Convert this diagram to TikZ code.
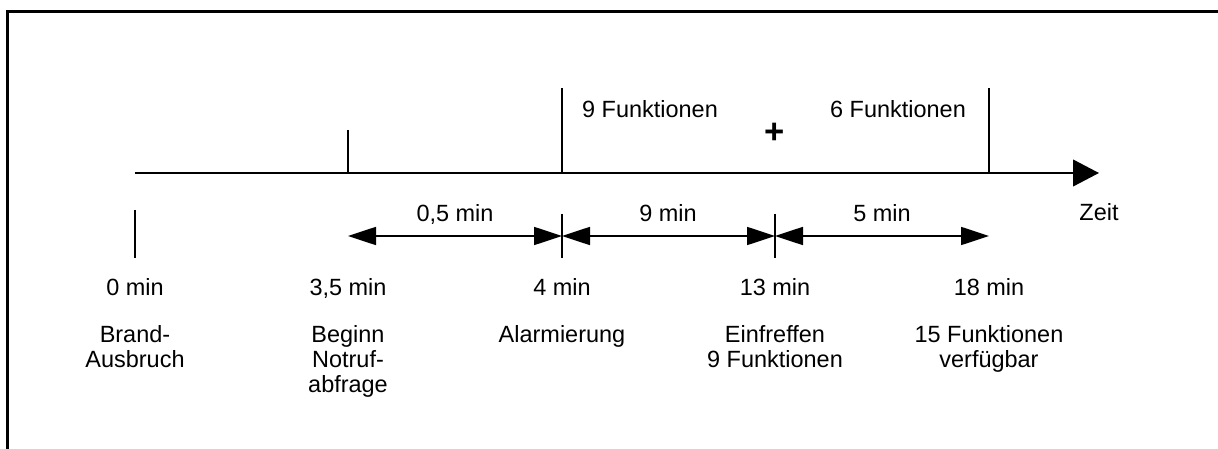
\documentclass[tikz,border=0pt]{standalone}
\usepackage{fontspec}
\setmainfont{Liberation Sans}
\usetikzlibrary{arrows.meta}

\tikzset{every picture/.style={line width=1.5pt}}
\tikzset{
  lbl/.style={font=\fontsize{17.6}{18.75}\selectfont, inner sep=0pt, anchor=base, align=center},
  dimarrow/.style={line width=1.3pt, {Triangle[length=21pt,width=13.5pt]}-{Triangle[length=21pt,width=13.5pt]}},
  axisarrow/.style={line width=1.5pt, -{Triangle[length=19.5pt,width=20pt]}},
}

\begin{document}
\begin{tikzpicture}[x=0.75pt,y=0.75pt,yscale=-1,xscale=1]
\useasboundingbox (0,0) rectangle (1218,449);

%Frame (left and top only)
\draw [line width=2.4pt] (7.2,449) -- (7.2,11.3) -- (1218,11.3) ;

%Points on the time axis
\coordinate (brand) at (135,173);
\coordinate (notruf) at (348,173);
\coordinate (alarm) at (562,173);
\coordinate (einfr) at (775,173);
\coordinate (verf) at (989,173);
\coordinate (zeit) at (1099,173);

%Time axis
\draw [axisarrow] (brand) -- (zeit) ;

%Ticks above the axis
\draw (notruf) -- ++(0,-43) ;
\draw (alarm) -- ++(0,-85) ;
\draw (verf) -- ++(0,-85) ;

%Ticks below the axis
\draw (brand) ++(0,37) -- ++(0,48) ;
\draw (alarm) ++(0,41) -- ++(0,44) ;
\draw (einfr) ++(0,41) -- ++(0,44) ;

%Dimension arrows
\coordinate (d1) at (348,236);
\coordinate (d2) at (562,236);
\coordinate (d3) at (775,236);
\coordinate (d4) at (989,236);
\draw [dimarrow] (d1) -- (d2) ;
\draw [dimarrow] (d2) -- (d3) ;
\draw [dimarrow] (d3) -- (d4) ;

% Text Node
\node [lbl] (zeitlbl) at (1099,221) {Zeit};
% Text Node
\node [lbl] (dur1) at (455,222) {0,5 min};
\node [lbl] (dur2) at (668,222) {9 min};
\node [lbl] (dur3) at (882,222) {5 min};
% Text Node
\node [lbl] (fkt9) at (650,118) {9 Funktionen};
\node [lbl, anchor=center, font=\fontsize{26}{26}\selectfont\bfseries] (plus) at (775,133) {+};
\node [lbl] (fkt6) at (898,118) {6 Funktionen};
% Text Node
\node [lbl] (m0) at (135,296) {0 min};
\node [lbl] (m1) at (348,296) {3,5 min};
\node [lbl] (m2) at (562,296) {4 min};
\node [lbl] (m3) at (775,296) {13 min};
\node [lbl] (m4) at (989,296) {18 min};
% Text Node (base = last line)
\node [lbl] (e0) at (135,367) {Brand-\\Ausbruch};
\node [lbl] (e1) at (348,392) {Beginn\\Notruf-\\abfrage};
\node [lbl] (e2) at (562,342) {Alarmierung};
\node [lbl] (e3) at (775,367) {Einfreffen\\9 Funktionen};
\node [lbl] (e4) at (989,367) {15 Funktionen\\verfügbar};

\end{tikzpicture}
\end{document}
